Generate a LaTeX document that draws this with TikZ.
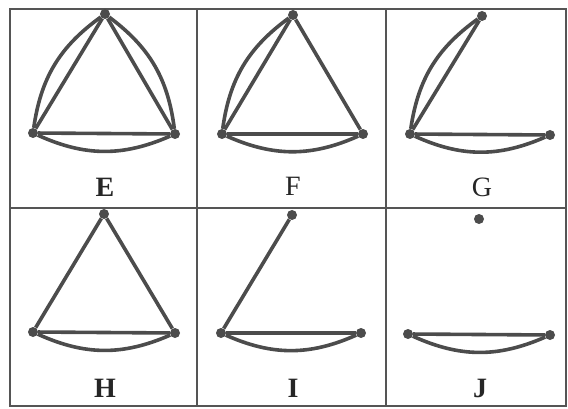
\documentclass[tikz,border=0pt]{standalone}
\usepackage{fontspec}
\setmainfont{Liberation Serif}
\begin{document}
\begin{tikzpicture}[x=1pt,y=1pt,
  vtx/.style={circle,fill=edgegray,inner sep=0pt,minimum size=10pt},
  edge/.style={draw=edgegray,line width=3.6pt},
  frame/.style={draw=framegray,line width=1.7pt},
  lab/.style={font=\fontsize{28}{30}\selectfont,text=black!85,inner sep=0pt},
  blab/.style={lab,font=\fontsize{28}{30}\selectfont\bfseries}]
\definecolor{edgegray}{HTML}{4C4C4C}
\definecolor{framegray}{HTML}{555555}
\useasboundingbox (0,0) rectangle (568,-409);
% frame
\draw[frame] (10,-9) rectangle (566,-406);
\draw[frame] (197,-9) -- (197,-406);
\draw[frame] (386,-9) -- (386,-406);
\draw[frame] (10,-208) -- (566,-208);
% E
\node[vtx] (Et) at (105,-14) {};
\node[vtx] (El) at (33,-133) {};
\node[vtx] (Er) at (175,-134) {};
\draw[edge] (Et) -- (El) (Et) -- (Er) (El) -- (Er);
\draw[edge] (El) to[bend left=23] (Et);
\draw[edge] (Et) to[bend left=23] (Er);
\draw[edge] (El) to[bend right=24] (Er);
\node[blab] (E) at (105,-187) {E};
% F
\node[vtx] (Ft) at (293,-15) {};
\node[vtx] (Fl) at (222,-134) {};
\node[vtx] (Fr) at (363,-134) {};
\draw[edge] (Ft) -- (Fl) (Ft) -- (Fr) (Fl) -- (Fr);
\draw[edge] (Fl) to[bend left=23] (Ft);
\draw[edge] (Fl) to[bend right=24] (Fr);
\node[lab] (F) at (293,-186) {F};
% G
\node[vtx] (Gt) at (482,-16) {};
\node[vtx] (Gl) at (410,-134) {};
\node[vtx] (Gr) at (550,-135) {};
\draw[edge] (Gt) -- (Gl) (Gl) -- (Gr);
\draw[edge] (Gl) to[bend left=23] (Gt);
\draw[edge] (Gl) to[bend right=24] (Gr);
\node[lab] (G) at (482,-187) {G};
% H
\node[vtx] (Ht) at (104,-214) {};
\node[vtx] (Hl) at (33,-332) {};
\node[vtx] (Hr) at (175,-333) {};
\draw[edge] (Ht) -- (Hl) (Ht) -- (Hr) (Hl) -- (Hr);
\draw[edge] (Hl) to[bend right=24] (Hr);
\node[blab] (H) at (105,-388) {H};
% I
\node[vtx] (It) at (292,-215) {};
\node[vtx] (Il) at (221,-333) {};
\node[vtx] (Ir) at (361,-333) {};
\draw[edge] (It) -- (Il) (Il) -- (Ir);
\draw[edge] (Il) to[bend right=24] (Ir);
\node[blab] (I) at (293,-388) {I};
% J
\node[vtx] (Jt) at (479,-219) {};
\node[vtx] (Jl) at (408,-334) {};
\node[vtx] (Jr) at (550,-335) {};
\draw[edge] (Jl) -- (Jr);
\draw[edge] (Jl) to[bend right=24] (Jr);
\node[blab] (J) at (480,-388) {J};
\end{tikzpicture}
\end{document}
